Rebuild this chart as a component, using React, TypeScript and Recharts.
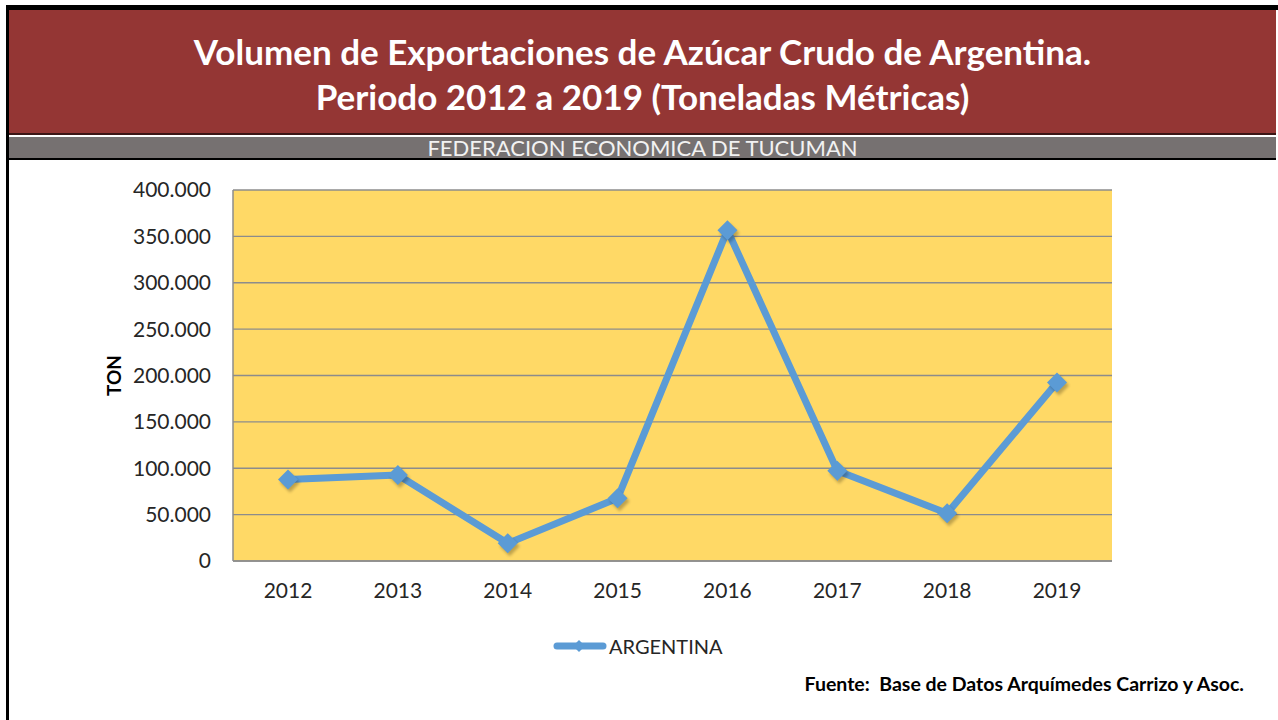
import React from "react";
import { LineChart, Line, XAxis, YAxis, CartesianGrid, Legend, Label } from "recharts";

const years = ["2012", "2013", "2014", "2015", "2016", "2017", "2018", "2019"];
const argentinaTon = [88000, 92700, 19100, 67600, 356700, 97300, 51400, 192500];
const yTicks = [0, 50000, 100000, 150000, 200000, 250000, 300000, 350000, 400000];

const data = years.map((year, i) => ({ year, ton: argentinaTon[i] }));

const BLUE = "#5B9BD5";
const FONT = "Lato, 'Open Sans', sans-serif";

// 400000 -> "400.000"
const fmtMiles = (v: number) => String(v).replace(/\B(?=(\d{3})+(?!\d))/g, ".");

function Diamond(props: any) {
  const { cx, cy } = props;
  if (cx == null || cy == null) return null;
  const r = 10;
  const pts = (dx: number, dy: number) =>
    `${cx + dx},${cy - r + dy} ${cx + r + dx},${cy + dy} ${cx + dx},${cy + r + dy} ${cx - r + dx},${cy + dy}`;
  return (
    <g>
      <polygon points={pts(2, 3)} fill="#000" opacity={0.25} filter="url(#blurShadow)" />
      <polygon points={pts(0, 0)} fill={BLUE} />
    </g>
  );
}

function LegendContent(props: any) {
  const { payload } = props;
  return (
    <div style={{ display: "flex", alignItems: "center" }}>
      {(payload || []).map((p: any) => (
        <div key={p.value} style={{ display: "flex", alignItems: "center" }}>
          <svg width={54} height={20}>
            <line x1={4} y1={10} x2={50} y2={10} stroke={p.color} strokeWidth={7} strokeLinecap="round" />
            <polygon points="26,4 32,10 26,16 20,10" fill={p.color} />
          </svg>
          <span style={{ fontFamily: FONT, fontSize: 20, color: "#262626", marginLeft: 2 }}>{p.value}</span>
        </div>
      ))}
    </div>
  );
}

export default function App() {
  return (
    <div
      style={{
        position: "fixed",
        left: 0,
        top: 0,
        width: 1278,
        height: 720,
        background: "#fff",
        overflow: "hidden",
        fontFamily: FONT,
      }}
    >
      {/* marco */}
      <div
        style={{
          position: "absolute",
          left: 6,
          top: 5,
          width: 1269,
          height: 720,
          borderTop: "5px solid #000",
          borderLeft: "3px solid #000",
          borderRight: "2px solid #666",
        }}
      />
      {/* cabecera roja */}
      <div
        style={{
          position: "absolute",
          left: 9,
          top: 10,
          width: 1267,
          height: 125,
          background: "#943634",
          borderBottom: "2px solid #3b1515",
          color: "#fff",
          textAlign: "center",
          fontWeight: 700,
          fontSize: 35,
          lineHeight: "45px",
          paddingTop: 19,
          boxSizing: "border-box",
        }}
      >
        <div>Volumen de Exportaciones de Azúcar Crudo de Argentina.</div>
        <div>Periodo 2012 a 2019 (Toneladas Métricas)</div>
      </div>
      {/* franja gris */}
      <div
        style={{
          position: "absolute",
          left: 9,
          top: 137,
          width: 1267,
          height: 21,
          background: "#767171",
          borderBottom: "2px solid #000",
          color: "#F2F2F2",
          textAlign: "center",
          fontSize: 22,
          lineHeight: "22px",
        }}
      >
        FEDERACION ECONOMICA DE TUCUMAN
      </div>

      <div style={{ position: "absolute", left: 0, top: 160 }}>
        <LineChart width={1278} height={560} data={data} margin={{ top: 30, right: 166, bottom: 129, left: 0 }}>
          <defs>
            <filter id="blurShadow" x="-50%" y="-50%" width="200%" height="200%">
              <feGaussianBlur stdDeviation="1.5" />
            </filter>
          </defs>
          <CartesianGrid vertical={false} fill="#FFD966" stroke="#8C8C8C" strokeWidth={1.3} />
          <XAxis
            dataKey="year"
            height={30}
            padding={{ left: 55, right: 55 }}
            axisLine={{ stroke: "#8C8C8C", strokeWidth: 1.5 }}
            tickLine={false}
            tickSize={0}
            tickMargin={22}
            tick={{ fill: "#262626", fontSize: 21, fontFamily: FONT }}
            interval={0}
          />
          <YAxis
            width={233}
            domain={[0, 400000]}
            ticks={yTicks}
            tickFormatter={fmtMiles}
            axisLine={{ stroke: "#8C8C8C", strokeWidth: 1.5 }}
            tickLine={false}
            tickSize={0}
            tickMargin={22}
            tick={{ fill: "#262626", fontSize: 21, fontFamily: FONT }}
            interval={0}
          >
            <Label
              content={(p: any) => {
                const vb = p.viewBox || { y: 30, height: 371 };
                const cy = vb.y + vb.height / 2;
                return (
                  <text
                    x={113}
                    y={cy}
                    transform={`rotate(-90 113 ${cy})`}
                    textAnchor="middle"
                    dominantBaseline="central"
                    fontFamily={FONT}
                    fontWeight={700}
                    fontSize={19}
                    fill="#000"
                  >
                    TON
                  </text>
                );
              }}
            />
          </YAxis>
          <Legend
            verticalAlign="middle"
            align="center"
            layout="horizontal"
            wrapperStyle={{ left: 553, top: 474, width: "auto" }}
            content={<LegendContent />}
          />
          <Line
            type="linear"
            dataKey="ton"
            name="ARGENTINA"
            stroke={BLUE}
            strokeWidth={7}
            strokeLinejoin="round"
            dot={<Diamond />}
            activeDot={false}
            isAnimationActive={false}
          />
        </LineChart>
      </div>

      <div
        style={{
          position: "absolute",
          right: 1278 - 1244,
          top: 672,
          fontSize: 19.5,
          fontWeight: 700,
          color: "#000",
          whiteSpace: "pre",
        }}
      >
        {"Fuente:  Base de Datos Arquímedes Carrizo y Asoc."}
      </div>
    </div>
  );
}
